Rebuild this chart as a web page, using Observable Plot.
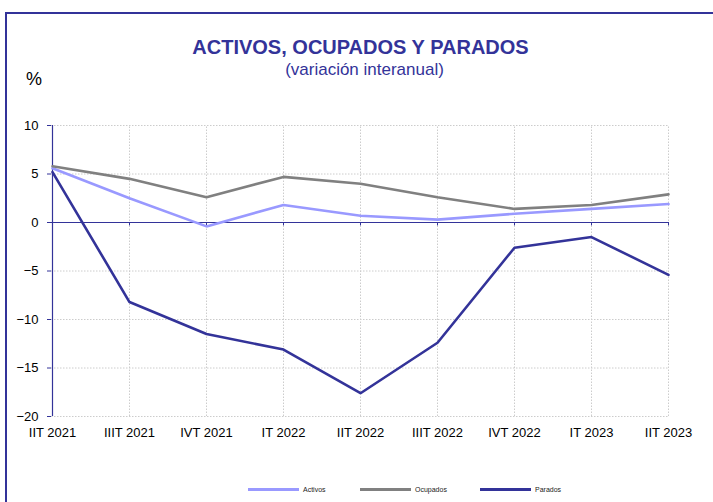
<!DOCTYPE html>
<html><head><meta charset="utf-8">
<script src="https://cdn.jsdelivr.net/npm/d3@7"></script>
<script src="https://cdn.jsdelivr.net/npm/@observablehq/plot@0.6"></script>
<style>
body{margin:0;background:#fff;font-family:Arial,"Liberation Sans",sans-serif;}
#wrap{position:relative;width:713px;height:502px;overflow:hidden;background:#fff;}
#frame{position:absolute;left:5px;top:12px;width:900px;height:700px;border-left:2px solid #333399;border-top:2px solid #333399;}
#title{position:absolute;left:4px;width:713px;top:36px;text-align:center;font-weight:bold;font-size:20px;color:#333399;white-space:nowrap;}
#subtitle{position:absolute;left:8px;width:713px;top:60px;text-align:center;font-size:17px;color:#333399;white-space:nowrap;}
#pct{position:absolute;left:26px;top:69px;font-size:18px;color:#000;}
#chart{position:absolute;left:0;top:100px;}
#legend{position:absolute;left:0;top:482px;width:713px;height:14px;font-size:7px;color:#222;}
.li{position:absolute;top:0;display:flex;align-items:center;height:14px;}
.sw{width:51px;height:3px;margin-right:4px;}
</style>
</head><body>
<div id="wrap">
<div id="frame"></div>
<div id="title">ACTIVOS, OCUPADOS Y PARADOS</div>
<div id="subtitle">(variación interanual)</div>
<div id="pct">%</div>
<div id="chart"></div>
<div id="legend"></div>
</div>
<script>
const categories = ["IIT 2021","IIIT 2021","IVT 2021","IT 2022","IIT 2022","IIIT 2022","IVT 2022","IT 2023","IIT 2023"];
const activos  = [5.6, 2.5, -0.4, 1.8, 0.7, 0.3, 0.9, 1.4, 1.9];
const ocupados = [5.8, 4.5, 2.6, 4.7, 4.0, 2.6, 1.4, 1.8, 2.9];
const parados  = [5.2, -8.2, -11.5, -13.1, -17.6, -12.4, -2.6, -1.5, -5.4];
const yTicks = [-20, -15, -10, -5, 0, 5, 10];
const seriesNames = ["Activos","Ocupados","Parados"];
const seriesColors = ["#9999ff","#808080","#333399"];

const seriesValues = [activos, ocupados, parados];
const data = [];
seriesNames.forEach((s, i) => categories.forEach((c, j) => data.push({series: s, cat: c, value: seriesValues[i][j]})));

const chart = Plot.plot({
  width: 713,
  height: 350,
  marginLeft: 51,
  marginRight: 44,
  marginTop: 25,
  marginBottom: 34,
  style: {fontFamily: "Arial, 'Liberation Sans', sans-serif", fontSize: "13px", color: "#000", background: "transparent"},
  x: {type: "point", domain: categories, padding: 0, label: null},
  y: {domain: [-20, 10], label: null},
  color: {domain: seriesNames, range: seriesColors},
  marks: [
    Plot.gridY(yTicks, {stroke: "#cccccc", strokeOpacity: 1, strokeDasharray: "1.5,1.5"}),
    Plot.gridX(categories, {stroke: "#cccccc", strokeOpacity: 1, strokeDasharray: "1.5,1.5", y1: -20, y2: 10}),
    Plot.ruleY([0], {stroke: "#333399", strokeWidth: 1.2}),
    Plot.ruleX([categories[0]], {y1: -20, y2: 10, stroke: "#333399", strokeWidth: 1.2}),
    Plot.ruleX(categories.slice(1), {y1: 0, y2: -0.35, stroke: "#333399", strokeWidth: 1}),
    Plot.axisY(yTicks, {tickSize: 4, tickPadding: 9, stroke: "#333399", fill: "#000", fontSize: 13}),
    Plot.axisX(categories, {tickSize: 0, tickPadding: 11, fill: "#000", fontSize: 13}),
    Plot.lineY(data, {x: "cat", y: "value", z: "series", stroke: "series", strokeWidth: 2.6, strokeLinejoin: "miter"})
  ]
});
document.getElementById("chart").appendChild(chart);

const legend = document.getElementById("legend");
const legendX = [248, 360, 480];
seriesNames.forEach((s, i) => {
  const d = document.createElement("div");
  d.className = "li";
  d.style.left = legendX[i] + "px";
  d.innerHTML = `<div class="sw" style="background:${seriesColors[i]}"></div><span>${s}</span>`;
  legend.appendChild(d);
});
</script>
</body></html>
